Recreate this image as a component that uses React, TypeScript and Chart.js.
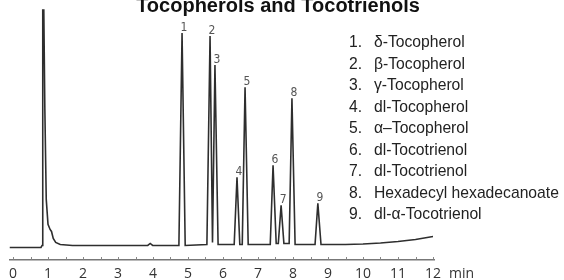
import React, { useEffect, useRef } from 'react';
import { Chart, registerables } from 'chart.js';

Chart.register(...registerables);

// Retention time (min) and detector signal of the chromatogram trace
const timeMin = [
  -0.1, 0.8, 0.83, 0.85, 0.88, 0.91, 0.95, 1.0, 1.06, 1.1, 1.15, 1.22, 1.35, 1.7,
  3.85, 3.92, 3.99, 4.74, 4.83, 4.92, 5.54, 5.63, 5.7, 5.77, 5.86, 6.32, 6.4, 6.48,
  6.55, 6.63, 6.72, 7.35, 7.43, 7.52, 7.58, 7.66, 7.74, 7.89, 7.97, 8.06, 8.63, 8.71,
  8.8, 9.5, 10.0, 10.5, 11.0, 11.5, 12.0,
];
const signal = [
  12, 12, 14, 249, 249, 150, 60, 35, 30, 28, 21, 17, 15, 14,
  14, 16, 14, 14, 226, 14, 15, 223, 17, 194, 15, 15, 82, 15,
  15, 172, 15, 15, 94, 16, 16, 54, 16, 16, 161, 15, 15, 56,
  15, 15, 15.5, 16.5, 18, 20, 23,
];

// Peak annotations
const peakNumbers = ['1', '2', '3', '4', '5', '6', '7', '8', '9'];
const peakTimes = [4.83, 5.63, 5.77, 6.4, 6.63, 7.43, 7.66, 7.97, 8.71];
const peakHeights = [226, 223, 194, 82, 172, 94, 54, 161, 56];

const compoundNames = [
  'δ-Tocopherol',
  'β-Tocopherol',
  'γ-Tocopherol',
  'dl-Tocopherol',
  'α–Tocopherol',
  'dl-Tocotrienol',
  'dl-Tocotrienol',
  'Hexadecyl hexadecanoate',
  'dl-α-Tocotrienol',
];

const xTickValues = [0, 1, 2, 3, 4, 5, 6, 7, 8, 9, 10, 11, 12];
const minorTickValues = [
  0, 0.5, 1, 1.5, 2, 2.5, 3, 3.5, 4, 4.5, 5, 5.5, 6, 6.5, 7, 7.5, 8, 8.5, 9, 9.5,
  10, 10.5, 11, 11.5, 12,
];
const chartTitle = 'Tocopherols and Tocotrienols';
const axisUnit = 'min';

const TICK_FONT = '14px "Open Sans"';
const TICK_PAD = 6;

const overlayPlugin = {
  id: 'overlay',
  afterDraw(chart: any) {
    const { ctx, chartArea } = chart;
    const x = chart.scales.x;
    const y = chart.scales.y;
    ctx.save();

    // Title (partly cut off at top like the reference)
    ctx.font = 'bold 20px "Liberation Sans"';
    ctx.fillStyle = '#111';
    ctx.textAlign = 'center';
    ctx.textBaseline = 'alphabetic';
    ctx.fillText(chartTitle, 278, 12);

    // minor ticks pointing up from axis
    ctx.strokeStyle = '#888';
    ctx.lineWidth = 1;
    minorTickValues.forEach((v) => {
      const px = Math.round(x.getPixelForValue(v)) + 0.5;
      ctx.beginPath();
      ctx.moveTo(px, chartArea.bottom - 2.5);
      ctx.lineTo(px, chartArea.bottom);
      ctx.stroke();
    });

    // unit after the last tick label
    const lastTick = xTickValues[xTickValues.length - 1];
    ctx.font = TICK_FONT;
    ctx.fillStyle = '#333';
    ctx.textAlign = 'left';
    ctx.textBaseline = 'top';
    ctx.fillText(axisUnit, x.getPixelForValue(lastTick) + 16, chartArea.bottom + TICK_PAD + 1.4);

    // peak labels
    ctx.font = '12px "DejaVu Sans Condensed"';
    ctx.fillStyle = '#555';
    ctx.textAlign = 'center';
    ctx.textBaseline = 'alphabetic';
    peakNumbers.forEach((n, i) => {
      const px = x.getPixelForValue(peakTimes[i]);
      const py = y.getPixelForValue(peakHeights[i]);
      ctx.fillText(n, px + 2, py - 2);
    });

    // compound list
    ctx.font = '15.7px "Liberation Sans"';
    ctx.fillStyle = '#222';
    ctx.textAlign = 'left';
    ctx.textBaseline = 'middle';
    compoundNames.forEach((name, i) => {
      const ly = 43 + i * 21.5;
      ctx.fillText(`${i + 1}.`, 349, ly);
      ctx.fillText(name, 374, ly);
    });

    ctx.restore();
  },
};

export default function App() {
  const canvasRef = useRef<HTMLCanvasElement | null>(null);

  useEffect(() => {
    if (!canvasRef.current) return;
    const chart = new Chart(canvasRef.current, {
      type: 'line',
      data: {
        datasets: [
          {
            data: timeMin.map((t, i) => ({ x: t, y: signal[i] })),
            borderColor: '#2e2e2e',
            borderWidth: 1.6,
            pointRadius: 0,
            tension: 0,
            fill: false,
          },
        ],
      },
      options: {
        animation: false,
        responsive: false,
        maintainAspectRatio: false,
        layout: { padding: { top: 9, left: 9.5, right: 129.25, bottom: 0 } },
        plugins: {
          legend: { display: false },
          tooltip: { enabled: false },
          title: { display: false },
        },
        scales: {
          x: {
            type: 'linear',
            min: -0.1,
            max: 12.05,
            afterFit: (scale: any) => {
              scale.height = 20.5;
            },
            border: { display: true, color: '#777', width: 1.5 },
            grid: { display: false, drawTicks: false },
            ticks: {
              stepSize: 1,
              includeBounds: false,
              autoSkip: false,
              maxRotation: 0,
              padding: TICK_PAD,
              color: '#333',
              font: { family: '"Open Sans"', size: 14 },
              callback: (v: any) => (xTickValues.includes(Number(v)) ? String(v) : ''),
            },
          },
          y: {
            display: false,
            min: 0,
            max: 250,
          },
        },
      },
      plugins: [overlayPlugin],
    });
    return () => chart.destroy();
  }, []);

  return (
    <div style={{ position: 'fixed', left: 0, top: 0, width: 564, height: 280, background: '#fff' }}>
      <canvas ref={canvasRef} width={564} height={280} style={{ display: 'block' }} />
    </div>
  );
}
